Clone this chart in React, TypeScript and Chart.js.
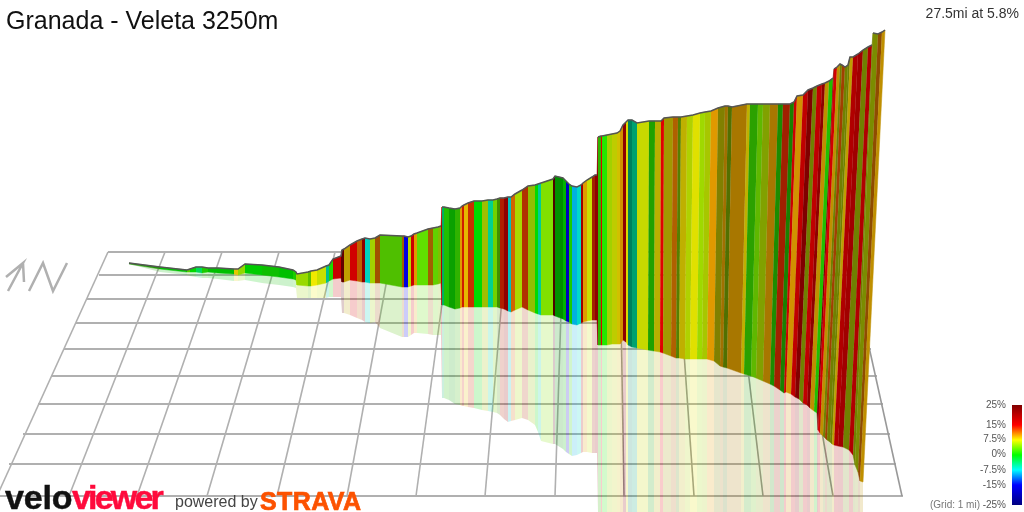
import { useEffect, useRef } from 'react';
import { Chart, registerables } from 'chart.js';

Chart.register(...registerables);

// profile vertices, one row per climb section (ribbon, foothills, mid, upper, summit)
const topX = [
  129,160,187,190,196,202,208,218,234,238,245,262,279,293,296,
  297,308,311,317,326,329,333,341,342,344,350,357,362,365,370,375,380,402,404,408,411,414,417,428,433,438,441,
  442,444,449,455,460,462,464,468,474,482,488,493,497,500,504,508,511,515,522,528,535,538,541,553,555,563,566,569,572,577,581,583,587,592,595,597,
  598,601,602,607,612,617,620,623,626,628,632,637,649,655,661,664,673,678,681,687,693,700,705,711,718,725,728,732,747,750,758,763,770,778,
  783,790,794,797,803,808,813,817,822,825,829,833,834,837,840,842,845,848,850,853,858,863,868,872,873,878,882,885,
];
const topY = [
  263,267,270,269,267,267,268,268,269,269,264,265,267,270,272,
  274,272,271,270,266,265,259,256,250,249,245,241,239,238,239,238,235,236,236,237,236,234,233,229,228,227,226,
  207,207,208,209,208,206,205,203,201,201,200,200,199,198,198,197,197,194,190,186,185,184,183,179,176,178,181,184,186,187,185,183,180,177,175,175,
  137,136,136,135,134,133,131,125,122,120,120,123,121,121,121,118,117,117,117,116,115,113,112,111,108,106,106,107,104,104,104,104,104,104,
  104,104,102,96,95,90,88,86,84,83,81,78,69,67,64,65,67,65,57,57,54,50,47,45,33,34,32,30,
];
const baseX = [
  129,160,187,190,196,202,208,218,234,238,245,262,279,293,296,
  297,308,311,317,326,329,333,341,342,344,350,357,362,365,370,375,380,402,404,408,411,414,417,428,433,438,441,
  442,444,449,455,460,462,464,468,474,482,488,493,497,500,504,508,511,515,522,528,535,538,541,553,555,563,566,569,572,577,581,583,587,592,595,597,
  598,601,602,607,612,617,620,623,626,628,632,637,648,654,660,663,671,676,679,685,690,697,702,707,714,720,723,727,741,744,751,756,763,770,
  774,780,784,786,791,795,799,803,807,810,814,817,818,820,823,825,827,830,832,834,838,843,849,853,855,858,860,863,
];
const baseY = [
  264,269,272,272,272,273,272,273,274,275,273,275,277,279,280,
  285,286,286,285,283,281,279,278,282,282,280,281,282,282,283,283,283,287,287,287,286,285,285,285,285,284,283,
  305,305,307,309,308,307,307,307,307,307,307,307,307,308,309,311,312,310,307,310,313,314,315,315,316,319,321,322,324,325,323,322,321,320,320,320,
  345,345,345,345,344,344,344,340,342,345,347,348,350,351,352,353,356,358,358,359,359,359,359,359,361,366,367,368,373,374,376,378,381,384,
  386,390,393,392,394,397,399,403,405,408,411,413,430,433,436,438,440,442,444,445,446,447,450,455,465,472,481,482,
];
const shadowY = [
  264,272,275,276,277,278,278,279,281,281,280,283,285,287,288,
  298,298,298,298,298,297,297,297,313,313,315,318,320,322,323,322,328,337,337,337,335,333,333,334,335,335,335,
  398,398,400,404,405,406,406,407,408,410,411,412,413,415,419,422,421,420,418,420,425,432,441,444,444,449,452,454,456,455,453,452,452,453,453,453,
  512,512,512,512,512,512,512,512,512,512,512,512,512,512,512,512,512,512,512,512,512,512,512,512,512,512,512,512,512,512,512,512,512,512,
  512,512,512,512,512,512,512,512,512,512,512,512,512,512,512,512,512,512,512,512,512,512,512,512,512,512,512,512,
];
// gradient % of the strip that starts at each vertex
const stripGrade = [
  1.5,0,3,0,-3,1,0,0,8.5,5,0,0.5,0,1,5.3,
  5.3,3.75,7.7,6.7,-5.6,1,15,15,15,8.8,15,11.25,15,-6.9,5.8,11.25,3.1,10.5,-15,6.3,15,9.8,3.2,10.5,3.5,5,15,
  -4.1,1.25,0.5,2,9.8,14,9,13.2,0,6.25,-5.2,4,3.3,13.7,15,-7.5,11.4,5.8,12.9,5.6,0,-5.5,4.3,15,0,0,-15,1,-9.1,-7,15,9.8,6.7,13.5,15,15,
  2,15,1.2,5.8,7,8.1,9.8,15,7.5,-5.6,-5.25,6.9,1.5,7.8,15,7.9,10.9,5,8.1,6.3,7.5,5.5,6.3,9.9,7.5,9.75,5.4,9.7,8.1,2,3.9,6,9.7,1.5,
  13.5,1.5,15,9.8,15,15,6.6,15,15,9.4,1.25,15,15,9.4,6.6,12,6.6,6.6,8.8,15,15,6.6,15,6.6,6.6,11,9.4,
];
// lighting of the same strip, 1 = full colour
const stripLight = [
  .6,.75,.8,.85,.85,.8,.75,.75,.9,.85,.8,.75,.75,.8,.85,
  .85,.75,.94,.88,.75,.85,.78,.38,.38,.75,.82,.75,.56,.82,.82,.63,.75,.63,.88,.85,.8,.88,.88,.63,.82,.75,.7,
  .69,.75,.63,.7,.88,.82,.9,.78,.85,.75,.82,.82,.56,.69,.56,.75,.82,.85,.69,.75,.85,.8,.88,.3,.56,.7,.75,.8,.88,.85,.63,.88,.88,.63,.56,.56,
  .7,.88,.9,.82,.8,.82,.82,.56,.85,.5,.63,.85,.63,.72,.88,.63,.69,.5,.75,.82,.88,.85,.78,.88,.5,.63,.44,.66,.75,.63,.72,.63,.66,.55,
  .63,.5,.8,.82,.75,.5,.5,.75,.56,.75,.75,.5,.82,.75,.5,.63,.5,.5,.75,.69,.63,.5,.69,.5,.55,.56,.75,
];

// floor grid
const gridRowY = [252, 275, 299, 323, 349, 376, 404, 434, 464, 496];
const gridRowLeft = [108, 99, 87, 76, 64, 51, 38, 23, 9, 0];
const gridRowRight = [850, 855, 860, 866, 871, 877, 883, 890, 896, 903];
const gridColTop = [108, 165, 222, 279, 335, 392, 449, 506, 563, 620, 677, 734, 791, 848];
const gridColBottom = [-3, 69, 137, 207, 277, 347, 416, 485, 555, 624, 694, 763, 833, 902];

// north marker
const arrowX = [8, 23, 6, 23, 24];
const arrowY = [291, 263, 277, 263, 282];
const northX = [29, 43, 53, 67];
const northY = [291, 263, 291, 263];

// colour scale
const scaleGrades = [25, 15, 7.5, 0, -7.5, -15, -25];
const scaleColors = [[128, 0, 0], [255, 0, 0], [255, 255, 0], [0, 255, 0], [0, 255, 255], [0, 0, 255], [0, 0, 128]];
const scaleLabels = ['25%', '15%', '7.5%', '0%', '-7.5%', '-15%', '-25%'];
const scaleLabelY = [405, 425, 439, 454, 470, 485, 505];

function gradeRgb(grade: number) {
  let i = 0;
  while (i < scaleGrades.length - 2 && grade < scaleGrades[i + 1]) i++;
  const t = (scaleGrades[i] - grade) / (scaleGrades[i] - scaleGrades[i + 1]);
  return scaleColors[i].map((c, k) => c + (scaleColors[i + 1][k] - c) * t);
}

function stripColor(i: number, alpha: number) {
  const [r, g, b] = gradeRgb(stripGrade[i]).map(c => Math.round(c * stripLight[i]));
  return `rgba(${r},${g},${b},${alpha})`;
}

function polyline(xs: number[], ys: number[], color: string, width: number) {
  return {
    data: xs.map((x, i) => ({ x, y: ys[i] })),
    showLine: true,
    fill: false,
    borderColor: color,
    borderWidth: width,
    pointRadius: 0,
  };
}

function buildDatasets() {
  const grid = [
    ...gridRowY.map((y, i) => polyline([gridRowLeft[i], gridRowRight[i]], [y, y], '#b0b0b0', 2)),
    ...gridColTop.map((x, i) => polyline([x, gridColBottom[i]], [252, 496], i > 8 ? '#999999' : '#b0b0b0', 1.6)),
  ];
  const shadows = stripGrade.map((_, i) => ({
    data: [
      { x: baseX[i], y: baseY[i] },
      { x: baseX[i + 1], y: baseY[i + 1] },
      { x: baseX[i + 1], y: shadowY[i + 1] },
      { x: baseX[i], y: shadowY[i] },
    ],
    showLine: true,
    fill: 'shape',
    backgroundColor: stripColor(i, 0.2),
    borderWidth: 0,
    pointRadius: 0,
  }));
  const walls = stripGrade.map((_, i) => ({
    data: [
      { x: topX[i], y: topY[i] },
      { x: topX[i + 1], y: topY[i + 1] },
      { x: baseX[i + 1], y: baseY[i + 1] },
      { x: baseX[i], y: baseY[i] },
    ],
    showLine: true,
    fill: 'shape',
    backgroundColor: stripColor(i, 1),
    borderColor: stripColor(i, 1),
    borderWidth: 0.5,
    pointRadius: 0,
  }));
  const outline = {
    ...polyline(topX, topY, '#555555', 1.5),
    // the wall jumps forward at a few places, no ridge line there
    segment: {
      borderColor: (ctx: any) => (Math.abs(ctx.p0.parsed.y - ctx.p1.parsed.y) > 8 ? 'transparent' : undefined),
    },
  };
  const colorBar = {
    data: [{ x: 1012, y: 405 }, { x: 1022, y: 405 }, { x: 1022, y: 505 }, { x: 1012, y: 505 }],
    showLine: true,
    fill: 'shape',
    borderWidth: 0,
    pointRadius: 0,
    backgroundColor: (ctx: any) => {
      const g = ctx.chart.ctx.createLinearGradient(0, 405, 0, 505);
      scaleGrades.forEach((grade, i) => {
        g.addColorStop((25 - grade) / 50, `rgb(${scaleColors[i].join(',')})`);
      });
      return g;
    },
  };
  // chart.js paints the first dataset last, so flip the back-to-front list
  return [
    ...grid,
    ...shadows,
    ...walls,
    outline,
    polyline(arrowX, arrowY, '#b0b0b0', 2.5),
    polyline(northX, northY, '#b0b0b0', 2.5),
    colorBar,
  ].reverse();
}

function Label({ x, y, right, size, color, bold, spacing, stroke, children }: any) {
  return (
    <span
      style={{
        position: 'absolute',
        top: y,
        ...(right !== undefined ? { right } : { left: x }),
        transform: 'translateY(-50%)',
        font: `${bold ? 'bold ' : ''}${size}px "Liberation Sans", Arial, sans-serif`,
        color,
        letterSpacing: spacing,
        WebkitTextStroke: stroke,
        lineHeight: 1,
        whiteSpace: 'nowrap',
      }}
    >
      {children}
    </span>
  );
}

export default function App() {
  const canvasRef = useRef<HTMLCanvasElement>(null);

  useEffect(() => {
    const canvas = canvasRef.current;
    if (!canvas) return;
    const chart = new Chart(canvas, {
      type: 'scatter',
      data: { datasets: buildDatasets() as any },
      options: {
        animation: false,
        responsive: false,
        devicePixelRatio: 1,
        events: [],
        layout: { padding: 0 },
        plugins: { legend: { display: false }, tooltip: { enabled: false } },
        scales: {
          x: { type: 'linear', display: false, min: 0, max: 1024 },
          y: { type: 'linear', display: false, min: 0, max: 512, reverse: true },
        },
      },
    });
    return () => chart.destroy();
  }, []);

  return (
    <div style={{ position: 'fixed', left: 0, top: 0, width: 1024, height: 512, overflow: 'hidden', background: '#fff' }}>
      <canvas ref={canvasRef} width={1024} height={512} style={{ display: 'block' }} />
      <Label x={6} y={19.5} size={25} color="#111">Granada - Veleta 3250m</Label>
      <Label right={5} y={13} size={14} color="#333">27.5mi at 5.8%</Label>
      {scaleLabels.map((t, i) => (
        <Label key={t} right={18} y={scaleLabelY[i]} size={10} color="#555">{t}</Label>
      ))}
      <Label x={930} y={505} size={10} color="#777">(Grid: 1 mi)</Label>
      <Label x={5} y={497} size={34} color="#111" bold spacing={-0.2} stroke="0.5px #111">velo</Label>
      <Label x={72} y={497} size={34} color="#ff0a3c" bold spacing={-2.8} stroke="0.5px #ff0a3c">viewer</Label>
      <Label x={175} y={501.5} size={16} color="#444">powered by</Label>
      <Label x={260} y={500.5} size={25} color="#fc5200" bold spacing={0.4} stroke="0.7px #fc5200">STRAVA</Label>
    </div>
  );
}
